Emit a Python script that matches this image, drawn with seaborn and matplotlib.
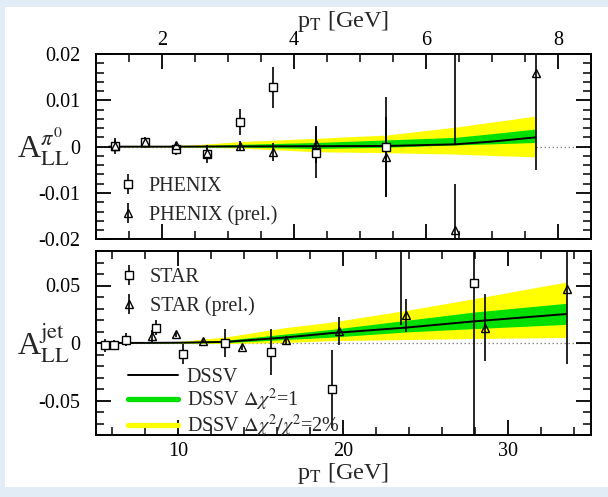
import numpy as np
import pandas as pd
import matplotlib
matplotlib.use("Agg")
import matplotlib.pyplot as plt
import seaborn as sns
from matplotlib.ticker import MultipleLocator, FixedLocator, FixedFormatter
from matplotlib.lines import Line2D
from matplotlib.patches import Rectangle

# ---------------- data: PHENIX (top panel) ----------------
phenix_pt = [1.29, 1.74, 2.21, 2.69, 3.19, 3.69, 4.34, 5.40, 6.44]
phenix_all = [0.0002, 0.0011, -0.0006, -0.0016, 0.0053, 0.0128, -0.0013, 0.0000, 0.0300]
phenix_err = [0.0017, 0.0010, 0.0012, 0.0019, 0.0028, 0.0045, 0.0055, 0.0108, 0.0295]

phenix_prel_pt = [1.29, 1.74, 2.21, 2.69, 3.19, 3.69, 4.34, 5.40, 6.44, 7.66]
phenix_prel_all = [0.0002, 0.0010, 0.0003, -0.0013, 0.0002, -0.0012, 0.0005, -0.0022, -0.0181, 0.0159]
phenix_prel_err = [0.0012, 0.0008, 0.0006, 0.0010, 0.0011, 0.0019, 0.0040, 0.0086, 0.0100, 0.0210]

# DSSV theory for pi0
pi0_pt = [1.2, 2.0, 2.5, 3.2, 4.34, 5.4, 6.44, 7.0, 7.66]
pi0_central = [0.0, 0.0, 0.00002, 0.00005, 0.0001, 0.00015, 0.0005, 0.0011, 0.0020]
pi0_green_lo = [0.0, 0.0, -0.00005, -0.0001, -0.0004, -0.00013, 0.00037, 0.0006, 0.0009]
pi0_green_hi = [0.0, 0.0001, 0.0002, 0.0005, 0.0009, 0.00145, 0.0020, 0.0028, 0.0038]
pi0_yellow_lo = [0.0, -0.00005, -0.0001, -0.0003, -0.0011, -0.0013, -0.0016, -0.0019, -0.0022]
pi0_yellow_hi = [0.0, 0.0002, 0.0004, 0.0011, 0.0018, 0.0025, 0.0042, 0.0053, 0.0066]

# ---------------- data: STAR (bottom panel) ----------------
star_pt = [5.57, 6.11, 6.81, 8.63, 10.3, 12.86, 15.62, 19.34, 23.5, 27.9]
star_all = [-0.0019, -0.0019, 0.0030, 0.0134, -0.0099, -0.0004, -0.0077, -0.0402, 0.1200, 0.0523]
star_err = [0.0058, 0.0046, 0.0055, 0.0065, 0.0086, 0.0122, 0.0202, 0.0340, 0.1040, 0.1400]

star_prel_pt = [8.39, 9.85, 11.52, 13.84, 16.53, 19.76, 23.8, 28.6, 33.54]
star_prel_all = [0.0059, 0.0076, 0.0018, -0.0039, 0.0024, 0.0102, 0.0240, 0.0134, 0.0470]
star_prel_err = [0.0050, 0.0020, 0.0020, 0.0020, 0.0040, 0.0120, 0.0144, 0.0290, 0.0650]

# DSSV theory for jets
jet_pt = [5.0, 8.0, 10.3, 12.9, 16.5, 19.2, 23.8, 27.9, 33.5]
jet_central = [0.0, 0.0001, 0.0003, 0.0010, 0.0048, 0.0085, 0.0134, 0.0188, 0.0252]
jet_green_lo = [0.0, 0.0, 0.0001, 0.0003, 0.0030, 0.0050, 0.0096, 0.0125, 0.0162]
jet_green_hi = [0.0, 0.0002, 0.0008, 0.0025, 0.0078, 0.0117, 0.0197, 0.0269, 0.0345]
jet_yellow_lo = [0.0, 0.0, -0.0002, -0.0005, 0.0004, 0.0020, 0.0030, 0.0039, 0.0048]
jet_yellow_hi = [0.0, 0.0003, 0.0016, 0.0053, 0.0134, 0.0180, 0.0283, 0.0385, 0.0530]

# ticks / labels
top_yticks = [-0.02, -0.01, 0.0, 0.01, 0.02]
top_yticklabels = ["-0.02", "-0.01", "0", "0.01", "0.02"]
top_xticks = [2, 4, 6, 8]
bot_yticks = [-0.05, 0.0, 0.05]
bot_yticklabels = ["-0.05", "0", "0.05"]
bot_xticks = [10, 20, 30]

# ---------------- style ----------------
sns.set_theme(style="ticks")
plt.rcParams["font.family"] = ["Liberation Serif", "DejaVu Serif"]
plt.rcParams["mathtext.fontset"] = "stix"

YELLOW = "#ffff00"
GREEN = "#00e000"
FS_TICK = 14.5
FS_LEG = 14.5

fig = plt.figure(figsize=(6.08, 4.97), dpi=100, facecolor="#e2ecf7")
fig.patches.append(Rectangle((5 / 608, 10 / 497), 603 / 608, 480 / 497,
                             transform=fig.transFigure, facecolor="white",
                             edgecolor="none", zorder=-10))

ax1 = fig.add_axes([95.7 / 608, 1 - 239.3 / 497, 495.3 / 608, 185.3 / 497])
ax2 = fig.add_axes([95.7 / 608, 1 - 435 / 497, 495.3 / 608, 184 / 497])


def style_axes(ax):
    ax.set_facecolor("white")
    for s in ax.spines.values():
        s.set_linewidth(1.4)
        s.set_color("black")
    ax.tick_params(which="both", direction="in", top=True, bottom=True,
                   left=True, right=True, colors="black", labelsize=FS_TICK)
    ax.tick_params(which="major", length=11, width=1.3)
    ax.tick_params(which="minor", length=5.5, width=1.1)
    ax.tick_params(axis="y", pad=11)


def draw_theory(ax, pt, yl, yh, gl, gh, c):
    ax.fill_between(pt, yl, yh, color=YELLOW, linewidth=0, zorder=1)
    ax.fill_between(pt, gl, gh, color=GREEN, linewidth=0, zorder=2)
    df = pd.DataFrame({"pt": pt, "all": c})
    sns.lineplot(data=df, x="pt", y="all", ax=ax, color="black", linewidth=1.4,
                 zorder=3, legend=False)


def draw_data(ax, x, y, e, marker, face, label, ms):
    ax.errorbar(x, y, yerr=e, fmt=marker, mfc=face, mec="black", mew=1.0,
                ms=ms, ecolor="black", elinewidth=1.2, capsize=0, color="black",
                label=label, zorder=5)


# ---------------- top panel ----------------
style_axes(ax1)
ax1.axhline(0, color="#888888", lw=0.9, ls=(0, (1.2, 2.0)), zorder=0.5)
draw_theory(ax1, pi0_pt, pi0_yellow_lo, pi0_yellow_hi, pi0_green_lo, pi0_green_hi, pi0_central)
draw_data(ax1, phenix_pt, phenix_all, phenix_err, "s", "white", "PHENIX", 5.2)
draw_data(ax1, phenix_prel_pt, phenix_prel_all, phenix_prel_err, "^", "none", "PHENIX (prel.)", 6)
ax1.set_xlim(1.0, 8.5)
ax1.set_ylim(-0.02, 0.02)
ax1.xaxis.set_major_locator(FixedLocator(top_xticks))
ax1.xaxis.set_minor_locator(MultipleLocator(0.5))
ax1.yaxis.set_major_locator(FixedLocator(top_yticks))
ax1.yaxis.set_major_formatter(FixedFormatter(top_yticklabels))
ax1.yaxis.set_minor_locator(MultipleLocator(0.002))
ax1.tick_params(axis="x", labeltop=True, labelbottom=False, pad=3)
ax1.xaxis.set_label_position("top")
ax1.set_xlabel(r"p$_\mathrm{T}$ [GeV]", fontsize=17.5, labelpad=3)
ax1.set_ylabel(r"A$_\mathrm{LL}^{\pi^0}$", fontsize=23, rotation=0, ha="right", va="center")
ax1.yaxis.set_label_coords(-0.052, 0.5)
ax1.legend(loc="center left", bbox_to_anchor=(0.0497, 0.2075), frameon=False,
           fontsize=FS_LEG, handlelength=0.8, handletextpad=0.6,
           labelspacing=0.48, borderpad=0, borderaxespad=0)

# ---------------- bottom panel ----------------
style_axes(ax2)
ax2.axhline(0, color="#888888", lw=0.9, ls=(0, (1.2, 2.0)), zorder=0.5)
draw_theory(ax2, jet_pt, jet_yellow_lo, jet_yellow_hi, jet_green_lo, jet_green_hi, jet_central)
draw_data(ax2, star_pt, star_all, star_err, "s", "white", "STAR", 5.2)
draw_data(ax2, star_prel_pt, star_prel_all, star_prel_err, "^", "none", "STAR (prel.)", 6)
ax2.set_xlim(5, 35)
ax2.set_ylim(-0.08, 0.08)
ax2.xaxis.set_major_locator(FixedLocator(bot_xticks))
ax2.xaxis.set_minor_locator(MultipleLocator(2))
ax2.yaxis.set_major_locator(FixedLocator(bot_yticks))
ax2.yaxis.set_major_formatter(FixedFormatter(bot_yticklabels))
ax2.yaxis.set_minor_locator(MultipleLocator(0.01))
ax2.tick_params(axis="x", pad=5)
ax2.set_xlabel(r"p$_\mathrm{T}$ [GeV]", fontsize=17.5, labelpad=0)
ax2.set_ylabel(r"A$_\mathrm{LL}^\mathrm{jet}$", fontsize=23, rotation=0, ha="right", va="center")
ax2.yaxis.set_label_coords(-0.052, 0.5)

leg_star = ax2.legend(loc="center left", bbox_to_anchor=(0.0517, 0.779), frameon=False,
                      fontsize=FS_LEG, handlelength=0.8, handletextpad=0.63,
                      labelspacing=0.46, borderpad=0, borderaxespad=0)
ax2.add_artist(leg_star)

th_handles = [Line2D([], [], color="black", lw=1.4),
              Line2D([], [], color=GREEN, lw=3.8),
              Line2D([], [], color=YELLOW, lw=3.8)]
th_labels = ["DSSV", r"DSSV $\Delta\chi^2$=1", r"DSSV $\Delta\chi^2/\chi^2$=2%"]
ax2.legend(th_handles, th_labels, loc="center left", bbox_to_anchor=(0.065, 0.172),
           frameon=False, fontsize=14.5, handlelength=2.5, handletextpad=0.43,
           labelspacing=0.0, borderpad=0, borderaxespad=0)

fig.savefig("out.png", dpi=100, facecolor=fig.get_facecolor())
